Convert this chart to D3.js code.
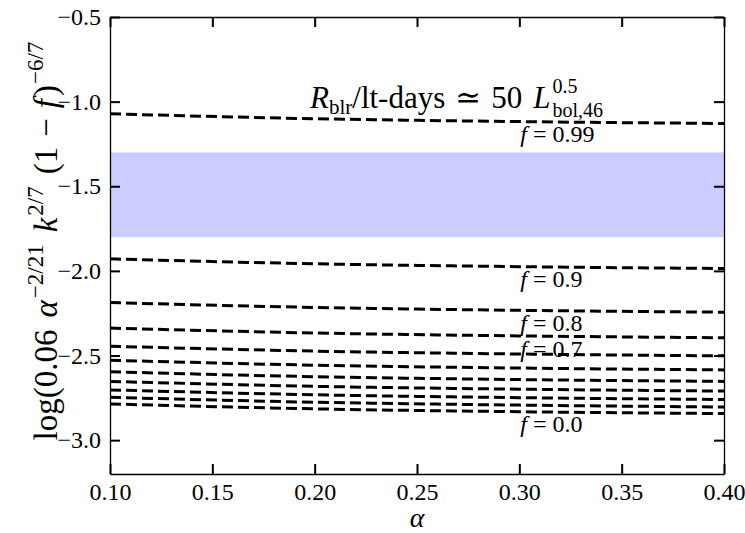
<!DOCTYPE html>
<html>
<head>
<meta charset="utf-8">
<script src="https://cdn.jsdelivr.net/npm/d3@7"></script>
<style>
  body { margin: 0; background: #fff; }
  svg text { font-family: "Liberation Serif", "DejaVu Serif", serif; fill: #000; }
</style>
</head>
<body>
<script>
// ---- data ----
var alphaPts = [0.10, 0.20, 0.30, 0.40];
var fValues = [0.0, 0.1, 0.2, 0.3, 0.4, 0.5, 0.6, 0.7, 0.8, 0.9, 0.99];
var curves = [
  [-2.786, -2.815, -2.832, -2.843],
  [-2.747, -2.776, -2.793, -2.804],
  [-2.703, -2.732, -2.749, -2.760],
  [-2.653, -2.682, -2.699, -2.710],
  [-2.596, -2.625, -2.642, -2.653],
  [-2.528, -2.557, -2.574, -2.585],
  [-2.445, -2.474, -2.491, -2.502],
  [-2.338, -2.367, -2.384, -2.395],
  [-2.187, -2.216, -2.233, -2.244],
  [-1.929, -1.958, -1.975, -1.986],
  [-1.072, -1.101, -1.118, -1.129]
];
var labelledF = ["0.99", "0.9", "0.8", "0.7", "0.0"];
var band = [-1.8, -1.3];
var xTicks = [0.10, 0.15, 0.20, 0.25, 0.30, 0.35, 0.40];
var yTicks = [-3.0, -2.5, -2.0, -1.5, -1.0, -0.5];

// ---- layout ----
var W = 745, H = 533;
var margin = {top: 17, right: 21, bottom: 59, left: 110};
var width = W - margin.left - margin.right;
var height = H - margin.top - margin.bottom;

var svg = d3.select("body").append("svg")
    .attr("width", W)
    .attr("height", H);

var g = svg.append("g")
    .attr("transform", "translate(" + margin.left + "," + margin.top + ")");

var x = d3.scaleLinear().domain([0.10, 0.40]).range([0, width]);
var y = d3.scaleLinear().domain([-3.2, -0.5]).range([height, 0]);

// shaded band
g.append("rect")
    .attr("x", x(0.10))
    .attr("width", x(0.40) - x(0.10))
    .attr("y", y(band[1]))
    .attr("height", y(band[0]) - y(band[1]))
    .attr("fill", "#ccccff");

// dashed curves
var line = d3.line()
    .x(function(d, i) { return x(alphaPts[i]); })
    .y(function(d) { return y(d); })
    .curve(d3.curveMonotoneX);

g.selectAll(".curve").data(curves).enter().append("path")
    .attr("class", "curve")
    .attr("d", line)
    .attr("fill", "none")
    .attr("stroke", "#000")
    .attr("stroke-width", 3)
    .attr("stroke-dasharray", "11,5");

// f labels at alpha = 0.3
labelledF.forEach(function(lbl) {
  var i = fValues.indexOf(+lbl);
  var t = g.append("text")
      .attr("x", x(0.30) + 1)
      .attr("y", y(curves[i][2] - 0.122))
      .style("font-size", "24px");
  t.append("tspan").style("font-style", "italic").text("f");
  t.append("tspan").attr("dx", 6).text("=");
  t.append("tspan").attr("dx", 6).text(lbl);
});

// axes, ticks inward on all sides
var fmtX = d3.format(".2f");
var fmtY = d3.format(".1f");

function styleAxis(sel) {
  sel.selectAll(".domain").attr("stroke", "#000").attr("stroke-width", 1.3);
  sel.selectAll(".tick line").attr("stroke", "#000").attr("stroke-width", 2);
  sel.selectAll("text").style("font-size", "24px")
      .style("font-family", "'Liberation Serif', serif");
}

g.append("g").attr("transform", "translate(0," + height + ")")
    .call(d3.axisBottom(x).tickValues(xTicks).tickFormat(fmtX)
      .tickSizeInner(-10).tickSizeOuter(0).tickPadding(9))
    .call(styleAxis);
g.append("g")
    .call(d3.axisTop(x).tickValues(xTicks).tickFormat("")
      .tickSizeInner(-10).tickSizeOuter(0))
    .call(styleAxis);
g.append("g")
    .call(d3.axisLeft(y).tickValues(yTicks).tickFormat(fmtY)
      .tickSizeInner(-10).tickSizeOuter(0).tickPadding(9))
    .call(styleAxis);
g.append("g").attr("transform", "translate(" + width + ",0)")
    .call(d3.axisRight(y).tickValues(yTicks).tickFormat("")
      .tickSizeInner(-10).tickSizeOuter(0))
    .call(styleAxis);

// x label
svg.append("text")
    .attr("x", margin.left + width / 2)
    .attr("y", 527)
    .attr("text-anchor", "middle")
    .style("font-size", "28px")
    .style("font-style", "italic")
    .text("α");

// y label
var yl = svg.append("text")
    .attr("transform", "translate(57,241) rotate(-90)")
    .attr("text-anchor", "middle")
    .style("font-size", "33px");
yl.append("tspan").text("log(0.06");
yl.append("tspan").attr("dx", 12).style("font-style", "italic").text("α");
yl.append("tspan").attr("dy", -14).attr("dx", 2).style("font-size", "23px").text("−2/21");
yl.append("tspan").attr("dy", 14).attr("dx", 12).style("font-style", "italic").text("k");
yl.append("tspan").attr("dy", -14).attr("dx", 2).style("font-size", "23px").text("2/7");
yl.append("tspan").attr("dy", 14).attr("dx", 12).text("(1");
yl.append("tspan").attr("dx", 10).text("−");
yl.append("tspan").attr("dx", 10).style("font-style", "italic").text("f");
yl.append("tspan").attr("dx", 3).text(")");
yl.append("tspan").attr("dy", -14).attr("dx", 1).style("font-size", "23px").text("−6/7");

// annotation
var gaps = [10, 10, 11];
var ann = svg.append("g").attr("transform", "translate(310,108)");
var at = ann.append("text").style("font-size", "31px");
at.append("tspan").style("font-style", "italic").text("R");
at.append("tspan").attr("dy", 6).style("font-size", "21px").text("blr");
at.append("tspan").attr("dy", -6).text("/lt-days");
at.append("tspan").attr("dx", gaps[0]).text("≃");
at.append("tspan").attr("dx", gaps[1]).text("50");
at.append("tspan").attr("dx", gaps[2]).style("font-style", "italic").text("L");
var endX = at.node().getComputedTextLength() + d3.sum(gaps) + 2;
ann.append("text").attr("x", endX).attr("y", -15).style("font-size", "20px").text("0.5");
ann.append("text").attr("x", endX).attr("y", 9).style("font-size", "20px").text("bol,46");
</script>
</body>
</html>
